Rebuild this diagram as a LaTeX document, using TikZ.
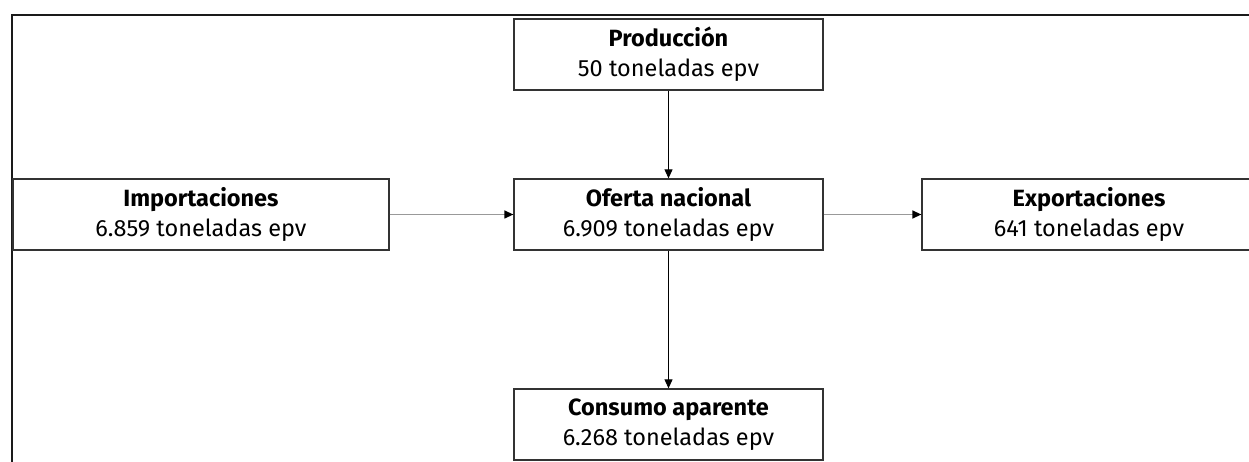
\documentclass[tikz,border=0pt]{standalone}
\usepackage{fontspec}
\setmainfont{Fira Sans}
\usetikzlibrary{arrows.meta}
\definecolor{framec}{HTML}{1A1A1A}
\definecolor{boxc}{HTML}{333333}
\definecolor{linec}{HTML}{999999}
\begin{document}
\begin{tikzpicture}[x=1pt,y=-1pt,
  flowbox/.style={draw=boxc,line width=1.3pt,rectangle,inner sep=0pt,align=center,
    font=\fontsize{23.5}{30}\selectfont},
  conn/.style={line width=1.3pt,-{Triangle[length=9pt,width=8pt,color=black]}},
  hconn/.style={conn,draw=linec},
  vconn/.style={conn,draw=black,line width=1pt}]
\useasboundingbox (0,0) rectangle (1249,462);
\draw[framec,line width=2pt] (12,470) -- (12,15) -- (1260,15);
\node[flowbox,minimum width=309pt,minimum height=71pt] (prod) at (668.5,54.5)
  {\textbf{Producción}\\50 toneladas epv};
\node[flowbox,minimum width=376pt,minimum height=71pt] (imp) at (201,214.5)
  {\textbf{Importaciones}\\6.859 toneladas epv};
\node[flowbox,minimum width=309pt,minimum height=71pt] (ofe) at (668.5,214.5)
  {\textbf{Oferta nacional}\\6.909 toneladas epv};
\node[flowbox,minimum width=334pt,minimum height=71pt] (exp) at (1089,214.5)
  {\textbf{Exportaciones}\\641 toneladas epv};
\node[flowbox,minimum width=309pt,minimum height=71pt] (con) at (668.5,424.5)
  {\textbf{Consumo aparente}\\6.268 toneladas epv};
\draw[vconn] (prod) -- (ofe);
\draw[vconn] (ofe) -- (con);
\draw[hconn] (imp) -- (ofe);
\draw[hconn] (ofe) -- (exp);
\end{tikzpicture}
\end{document}
